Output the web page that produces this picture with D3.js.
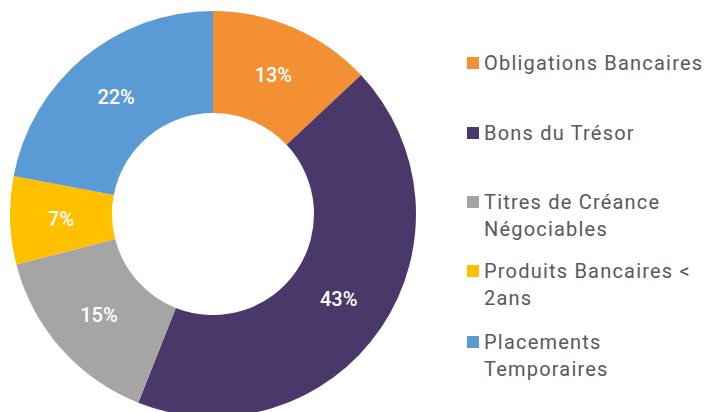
<!DOCTYPE html>
<html>
<head>
<meta charset="utf-8">
<script src="https://cdn.jsdelivr.net/npm/d3@7"></script>
<style>
  body { margin: 0; background: #fff; }
</style>
</head>
<body>
<div id="chart"></div>
<script>
// Data
const categories = [
  ["Obligations Bancaires"],
  ["Bons du Trésor"],
  ["Titres de Créance", "Négociables"],
  ["Produits Bancaires <", "2ans"],
  ["Placements", "Temporaires"]
];
const values = [13, 43, 15, 7, 22];
const colors = ["#f39033", "#4b386b", "#a5a5a5", "#ffc000", "#5b9bd5"];

const data = values.map((v, i) => ({ value: v, label: categories[i], color: colors[i] }));

const width = 708;
const height = 412;
const cx = 213;
const cy = 214;
const outerR = 203;
const innerR = 101;

const svg = d3.select("#chart")
  .append("svg")
  .attr("width", width)
  .attr("height", height)
  .attr("viewBox", [0, 0, width, height]);

const pie = d3.pie()
  .value(d => d.value)
  .sort(null);

const arc = d3.arc()
  .innerRadius(innerR)
  .outerRadius(outerR);

const g = svg.append("g")
  .attr("transform", `translate(${cx},${cy})`);

const arcs = pie(data);

g.selectAll("path")
  .data(arcs)
  .join("path")
  .attr("d", arc)
  .attr("fill", d => d.data.color);

// slice labels
g.selectAll("text")
  .data(arcs)
  .join("text")
  .attr("transform", d => `translate(${arc.centroid(d)})`)
  .attr("text-anchor", "middle")
  .attr("dy", "0.35em")
  .attr("font-family", "Roboto, sans-serif")
  .attr("font-size", "20px")
  .attr("font-weight", 500)
  .attr("fill", "white")
  .text(d => `${d.data.value}%`);

// Legend
const legendX = 467;
const legendRows = [63, 133, 202, 271, 342];
const lineH = 27;

const legend = svg.append("g");

data.forEach((d, i) => {
  const item = legend.append("g")
    .attr("transform", `translate(${legendX},${legendRows[i]})`);

  item.append("rect")
    .attr("x", 0)
    .attr("y", -6)
    .attr("width", 12)
    .attr("height", 12)
    .attr("fill", d.color);

  const t = item.append("text")
    .attr("x", 17)
    .attr("y", 0)
    .attr("font-family", "Roboto, sans-serif")
    .attr("font-size", "20px")
    .attr("letter-spacing", "1.2px")
    .attr("fill", "#595959");

  d.label.forEach((line, j) => {
    t.append("tspan")
      .attr("x", 17)
      .attr("dy", j === 0 ? "0.35em" : lineH)
      .text(line);
  });
});
</script>
</body>
</html>
